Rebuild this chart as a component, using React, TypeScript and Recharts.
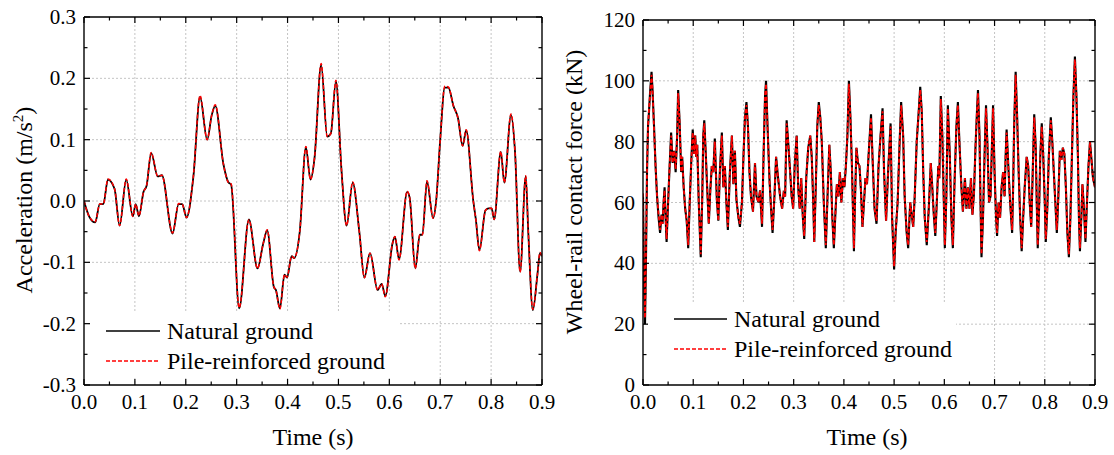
import { LineChart, Line, XAxis, YAxis, CartesianGrid, Legend } from "recharts";

const FONT = "'Liberation Serif', 'Times New Roman', 'DejaVu Serif', serif";

// axis ticks
const timeMajor = [0, 0.1, 0.2, 0.3, 0.4, 0.5, 0.6, 0.7, 0.8, 0.9];
const timeMinor = [0.05, 0.15, 0.25, 0.35, 0.45, 0.55, 0.65, 0.75, 0.85];
const accMajor = [-0.3, -0.2, -0.1, 0, 0.1, 0.2, 0.3];
const accMinor = [-0.25, -0.15, -0.05, 0.05, 0.15, 0.25];
const forceMajor = [0, 20, 40, 60, 80, 100, 120];
const forceMinor = [10, 30, 50, 70, 90, 110];

// left panel: acceleration (m/s2)
const accTime = [
  0, 0.01, 0.022, 0.031, 0.038, 0.047, 0.06, 0.07, 0.083, 0.096,
  0.1015, 0.108, 0.117, 0.123, 0.132, 0.145, 0.153, 0.174, 0.186, 0.193,
  0.2015, 0.215, 0.228, 0.242, 0.251, 0.258, 0.274, 0.284, 0.289, 0.305,
  0.324, 0.341, 0.352, 0.36, 0.373, 0.377, 0.385, 0.394, 0.399, 0.408,
  0.413, 0.424, 0.436, 0.445, 0.453, 0.466, 0.478, 0.485, 0.495, 0.506,
  0.516, 0.528, 0.541, 0.551, 0.562, 0.577, 0.585, 0.592, 0.606, 0.611,
  0.619, 0.635, 0.64, 0.651, 0.66, 0.665, 0.674, 0.686, 0.692, 0.7,
  0.709, 0.716, 0.726, 0.735, 0.744, 0.751, 0.765, 0.77, 0.777, 0.789,
  0.795, 0.801, 0.806, 0.819, 0.826, 0.839, 0.847, 0.857, 0.868, 0.873,
  0.882, 0.891, 0.896, 0.9,
];
const accNatural = [
  0, -0.025, -0.035, -0.005, -0.005, 0.035, 0.02, -0.04, 0.035, -0.025,
  -0.005, -0.025, 0.015, 0.025, 0.078, 0.04, 0.042, -0.053, -0.005, -0.005,
  -0.027, 0.04, 0.17, 0.1, 0.14, 0.155, 0.06, 0.03, 0.027, -0.175,
  -0.03, -0.11, -0.07, -0.048, -0.14, -0.145, -0.175, -0.12, -0.125, -0.09,
  -0.093, -0.05, 0.088, 0.035, 0.07, 0.222, 0.105, 0.11, 0.195, 0.05,
  -0.04, 0.03, -0.05, -0.125, -0.085, -0.145, -0.135, -0.155, -0.07, -0.058,
  -0.095, 0.015, 0.005, -0.11, -0.055, -0.055, 0.032, -0.028, 0, 0.1,
  0.185, 0.185, 0.155, 0.135, 0.09, 0.115, 0, -0.03, -0.08, -0.015,
  -0.012, -0.012, -0.03, 0.08, 0.03, 0.14, 0.08, -0.115, 0.04, -0.05,
  -0.178, -0.12, -0.085, -0.09,
];
const accPile = [
  0, -0.025, -0.034, -0.005, -0.005, 0.036, 0.02, -0.04, 0.036, -0.025,
  -0.005, -0.024, 0.015, 0.025, 0.079, 0.04, 0.042, -0.052, -0.004, -0.005,
  -0.027, 0.041, 0.172, 0.1, 0.14, 0.157, 0.06, 0.03, 0.028, -0.174,
  -0.031, -0.11, -0.07, -0.047, -0.14, -0.145, -0.176, -0.12, -0.124, -0.09,
  -0.093, -0.05, 0.089, 0.035, 0.07, 0.224, 0.105, 0.11, 0.197, 0.05,
  -0.04, 0.031, -0.05, -0.125, -0.085, -0.145, -0.135, -0.156, -0.07, -0.058,
  -0.096, 0.016, 0.005, -0.11, -0.055, -0.055, 0.033, -0.028, 0, 0.1,
  0.187, 0.186, 0.155, 0.135, 0.09, 0.116, 0, -0.03, -0.081, -0.015,
  -0.012, -0.012, -0.03, 0.081, 0.03, 0.142, 0.08, -0.116, 0.041, -0.05,
  -0.177, -0.12, -0.084, -0.09,
];

// right panel: wheel-rail contact force (kN)
const forceTime = [
  0, 0.002, 0.004, 0.006, 0.008, 0.01, 0.012, 0.014, 0.017, 0.019,
  0.022, 0.025, 0.028, 0.031, 0.034, 0.037, 0.039, 0.041, 0.043, 0.045,
  0.047, 0.05, 0.053, 0.056, 0.059, 0.062, 0.065, 0.068, 0.07, 0.073,
  0.076, 0.078, 0.081, 0.084, 0.087, 0.09, 0.093, 0.096, 0.099, 0.102,
  0.104, 0.106, 0.108, 0.111, 0.115, 0.118, 0.12, 0.122, 0.125, 0.128,
  0.131, 0.134, 0.137, 0.14, 0.143, 0.147, 0.15, 0.153, 0.157, 0.16,
  0.163, 0.166, 0.169, 0.173, 0.177, 0.18, 0.183, 0.186, 0.19, 0.193,
  0.197, 0.2, 0.203, 0.206, 0.209, 0.212, 0.215, 0.219, 0.221, 0.223,
  0.226, 0.23, 0.233, 0.237, 0.24, 0.243, 0.245, 0.248, 0.252, 0.255,
  0.258, 0.262, 0.265, 0.269, 0.273, 0.277, 0.28, 0.283, 0.286, 0.289,
  0.293, 0.296, 0.299, 0.302, 0.306, 0.309, 0.312, 0.315, 0.318, 0.321,
  0.325, 0.329, 0.333, 0.336, 0.339, 0.341, 0.344, 0.347, 0.35, 0.353,
  0.356, 0.36, 0.364, 0.367, 0.371, 0.374, 0.377, 0.38, 0.383, 0.386,
  0.389, 0.392, 0.395, 0.398, 0.401, 0.404, 0.407, 0.41, 0.413, 0.416,
  0.418, 0.42, 0.422, 0.425, 0.428, 0.431, 0.434, 0.437, 0.44, 0.443,
  0.446, 0.449, 0.454, 0.457, 0.461, 0.465, 0.469, 0.473, 0.477, 0.48,
  0.484, 0.488, 0.493, 0.496, 0.5, 0.503, 0.507, 0.511, 0.514, 0.518,
  0.521, 0.525, 0.528, 0.532, 0.535, 0.538, 0.541, 0.545, 0.549, 0.552,
  0.555, 0.558, 0.561, 0.565, 0.569, 0.573, 0.576, 0.579, 0.582, 0.585,
  0.588, 0.59, 0.593, 0.596, 0.599, 0.601, 0.604, 0.607, 0.611, 0.614,
  0.617, 0.62, 0.624, 0.627, 0.63, 0.634, 0.637, 0.641, 0.644, 0.647,
  0.65, 0.653, 0.656, 0.659, 0.662, 0.665, 0.667, 0.67, 0.672, 0.674,
  0.677, 0.68, 0.683, 0.686, 0.689, 0.692, 0.695, 0.697, 0.7, 0.703,
  0.705, 0.708, 0.711, 0.714, 0.717, 0.72, 0.722, 0.724, 0.728, 0.731,
  0.735, 0.737, 0.739, 0.742, 0.745, 0.748, 0.751, 0.754, 0.757, 0.76,
  0.764, 0.767, 0.77, 0.773, 0.776, 0.779, 0.782, 0.784, 0.786, 0.789,
  0.791, 0.794, 0.797, 0.8, 0.802, 0.805, 0.808, 0.812, 0.815, 0.818,
  0.821, 0.824, 0.827, 0.83, 0.833, 0.836, 0.839, 0.842, 0.845, 0.848,
  0.851, 0.854, 0.857, 0.86, 0.863, 0.866, 0.868, 0.87, 0.873, 0.875,
  0.878, 0.881, 0.884, 0.887, 0.89, 0.893, 0.896, 0.9,
];
const forceNatural = [
  62, 35, 20, 42, 70, 85, 90, 96, 103, 97,
  85, 72, 62, 55, 50, 56, 53, 60, 65, 55,
  47, 60, 72, 83, 73, 77, 70, 82, 97, 86,
  70, 75, 65, 58, 54, 45, 60, 73, 84, 76,
  82, 75, 79, 60, 42, 62, 82, 87, 76, 64,
  53, 64, 72, 70, 81, 61, 54, 70, 83, 65,
  72, 60, 51, 70, 82, 66, 77, 61, 55, 52,
  60, 75, 88, 93, 85, 70, 62, 57, 65, 73,
  62, 60, 64, 52, 75, 95, 100, 85, 67, 58,
  50, 63, 75, 68, 62, 58, 63, 62, 87, 80,
  70, 62, 58, 72, 82, 65, 58, 68, 56, 48,
  68, 78, 82, 75, 60, 47, 65, 85, 93, 88,
  80, 60, 45, 60, 79, 70, 55, 45, 56, 66,
  62, 70, 60, 68, 65, 72, 82, 100, 88, 72,
  58, 44, 60, 78, 73, 72, 64, 52, 60, 68,
  66, 75, 89, 75, 58, 53, 72, 82, 91, 70,
  54, 70, 86, 55, 38, 50, 60, 80, 93, 82,
  62, 50, 45, 60, 56, 52, 62, 80, 90, 98,
  90, 70, 55, 46, 58, 73, 65, 56, 49, 60,
  72, 68, 95, 82, 60, 45, 62, 92, 75, 55,
  45, 65, 85, 93, 80, 65, 57, 68, 58, 65,
  58, 68, 56, 63, 78, 90, 97, 82, 60, 42,
  55, 75, 92, 78, 60, 62, 80, 92, 70, 55,
  49, 60, 55, 65, 70, 62, 75, 84, 70, 60,
  50, 65, 85, 103, 88, 70, 55, 44, 55, 65,
  75, 72, 60, 52, 70, 89, 78, 60, 45, 60,
  75, 86, 75, 60, 47, 58, 75, 88, 80, 70,
  60, 50, 62, 77, 74, 78, 76, 65, 50, 42,
  55, 75, 95, 108, 95, 75, 55, 44, 56, 66,
  58, 47, 60, 72, 80, 74, 68, 65,
];
const forcePile = [
  63, 37, 22, 44, 71, 85, 91, 95, 102, 97,
  84, 72, 62, 56, 51, 56, 53, 60, 64, 55,
  48, 60, 72, 82, 73, 77, 71, 82, 96, 86,
  70, 75, 65, 58, 54, 46, 60, 73, 83, 76,
  82, 75, 79, 60, 43, 62, 82, 86, 76, 64,
  53, 64, 72, 70, 80, 61, 54, 70, 82, 65,
  72, 60, 52, 70, 82, 66, 77, 61, 55, 53,
  60, 75, 88, 92, 85, 70, 62, 57, 65, 73,
  62, 60, 64, 53, 75, 95, 99, 85, 67, 58,
  51, 63, 75, 68, 62, 58, 63, 62, 86, 80,
  70, 62, 58, 72, 82, 65, 58, 68, 56, 49,
  68, 78, 82, 75, 60, 47, 65, 85, 92, 88,
  80, 60, 46, 60, 79, 70, 55, 46, 56, 66,
  62, 70, 60, 68, 65, 72, 82, 99, 88, 72,
  58, 45, 60, 78, 73, 72, 64, 52, 60, 68,
  66, 75, 88, 75, 58, 54, 72, 82, 90, 70,
  54, 70, 85, 55, 39, 50, 60, 80, 92, 82,
  62, 50, 46, 60, 56, 52, 62, 80, 90, 97,
  90, 70, 55, 47, 58, 73, 65, 56, 50, 60,
  72, 68, 94, 82, 60, 46, 62, 91, 75, 55,
  46, 65, 85, 92, 80, 65, 57, 68, 58, 65,
  58, 68, 56, 63, 78, 90, 96, 82, 60, 43,
  55, 75, 91, 78, 60, 62, 80, 91, 70, 55,
  50, 60, 55, 65, 70, 62, 75, 83, 70, 60,
  51, 65, 85, 102, 88, 70, 55, 45, 55, 65,
  75, 72, 60, 52, 70, 88, 78, 60, 46, 60,
  75, 85, 75, 60, 48, 58, 75, 87, 80, 70,
  60, 51, 62, 77, 74, 78, 76, 65, 50, 43,
  55, 75, 95, 107, 95, 75, 55, 45, 56, 66,
  58, 48, 60, 72, 80, 74, 68, 65,
];

const accRows = accTime.map((t, i) => ({ t, natural: accNatural[i], pile: accPile[i] }));
const forceRows = forceTime.map((t, i) => ({ t, natural: forceNatural[i], pile: forcePile[i] }));

const isMajor = (v: number, majors: number[]) => majors.some((m) => Math.abs(m - v) < 1e-9);
const sortAll = (a: number[], b: number[]) => [...a, ...b].sort((p, q) => p - q);

type Side = "bottom" | "top" | "left" | "right";

function makeTick(side: Side, majors: number[], fmt?: (v: number) => string) {
  return (props: any) => {
    const { x, y, payload } = props;
    const v = payload.value as number;
    const major = isMajor(v, majors);
    const len = major ? 6 : 3.5;
    let x2 = x;
    let y2 = y;
    if (side === "bottom") y2 = y - len;
    if (side === "top") y2 = y + len;
    if (side === "left") x2 = x + len;
    if (side === "right") x2 = x - len;
    return (
      <g>
        <line x1={x} y1={y} x2={x2} y2={y2} stroke="#000" strokeWidth={1.2} />
        {fmt && major && side === "bottom" && (
          <text x={x} y={y + 24} textAnchor="middle" fontFamily={FONT} fontSize={21} fill="#000">
            {fmt(v)}
          </text>
        )}
        {fmt && major && side === "left" && (
          <text x={x - 8} y={y + 7} textAnchor="end" fontFamily={FONT} fontSize={21} fill="#000">
            {fmt(v)}
          </text>
        )}
      </g>
    );
  };
}

const axisLine = { stroke: "#000", strokeWidth: 1.4 };

function LegendContent({ lineX, lineW, textX, y1, y2 }: { lineX: number; lineW: number; textX: number; y1: number; y2: number }) {
  return (
    <svg width="100%" height="100%" style={{ display: "block" }}>
      <line x1={lineX} y1={y1} x2={lineX + lineW} y2={y1} stroke="#000" strokeWidth={1.5} />
      <text x={textX} y={y1 + 8} fontFamily={FONT} fontSize={24} fill="#000">
        Natural ground
      </text>
      <line x1={lineX} y1={y2} x2={lineX + lineW} y2={y2} stroke="#ff0000" strokeWidth={1.5} strokeDasharray="4 2" />
      <text x={textX} y={y2 + 8} fontFamily={FONT} fontSize={24} fill="#000">
        Pile-reinforced ground
      </text>
    </svg>
  );
}

function TimeTitle() {
  return (
    <text x={313} y={445} textAnchor="middle" fontFamily={FONT} fontSize={24} fill="#000">
      Time (s)
    </text>
  );
}

function AccTitle() {
  return (
    <text transform="translate(32,200) rotate(-90)" textAnchor="middle" fontFamily={FONT} fontSize={24} fill="#000">
      <tspan>Acceleration (m/s</tspan>
      <tspan dy={-9} fontSize={15}>2</tspan>
      <tspan dy={9}>)</tspan>
    </text>
  );
}

function ForceTitle() {
  return (
    <text transform="translate(28,192) rotate(-90)" textAnchor="middle" fontFamily={FONT} fontSize={24} fill="#000">
      Wheel-rail contact force (kN)
    </text>
  );
}

function Panel({
  rows,
  yDomain,
  yMajor,
  yMinor,
  yFmt,
  curve,
  lineWidth,
  top,
  left,
  right,
  yTitle,
  legendBox,
  legendInner,
}: {
  rows: { t: number; natural: number; pile: number }[];
  yDomain: [number, number];
  yMajor: number[];
  yMinor: number[];
  yFmt: (v: number) => string;
  curve: "monotone" | "linear";
  lineWidth: number;
  top: number;
  left: number;
  right: number;
  yTitle: JSX.Element;
  legendBox: { left: number; top: number; width: number; height: number };
  legendInner: { lineX: number; lineW: number; textX: number; y1: number; y2: number };
}) {
  const xTicks = sortAll(timeMajor, timeMinor);
  const yTicks = sortAll(yMajor, yMinor);
  const innerX = timeMajor.slice(1, -1);
  const innerY = yMajor.slice(1, -1);
  return (
    <LineChart width={560} height={455} data={rows} margin={{ top, right, bottom: 40, left }}>
      <CartesianGrid
        stroke="#c4c4c4"
        strokeDasharray="2 2"
        strokeWidth={1}
        verticalValues={innerX}
        horizontalValues={innerY}
      />
      <XAxis
        dataKey="t"
        type="number"
        domain={[0, 0.9]}
        allowDataOverflow
        ticks={xTicks}
        interval={0}
        height={30}
        axisLine={axisLine}
        tickLine={false}
        tickSize={0}
        tickMargin={0}
        tick={makeTick("bottom", timeMajor, (v) => v.toFixed(1))}
        label={<TimeTitle />}
      />
      <XAxis
        xAxisId="top"
        orientation="top"
        dataKey="t"
        type="number"
        domain={[0, 0.9]}
        allowDataOverflow
        ticks={xTicks}
        interval={0}
        height={1}
        axisLine={axisLine}
        tickLine={false}
        tickSize={0}
        tickMargin={0}
        tick={makeTick("top", timeMajor)}
      />
      <YAxis
        type="number"
        domain={yDomain}
        allowDataOverflow
        ticks={yTicks}
        interval={0}
        width={60}
        axisLine={axisLine}
        tickLine={false}
        tickSize={0}
        tickMargin={0}
        tick={makeTick("left", yMajor, yFmt)}
        label={yTitle}
      />
      <YAxis
        yAxisId="right"
        orientation="right"
        type="number"
        domain={yDomain}
        allowDataOverflow
        ticks={yTicks}
        interval={0}
        width={1}
        axisLine={axisLine}
        tickLine={false}
        tickSize={0}
        tickMargin={0}
        tick={makeTick("right", yMajor)}
      />
      <Line
        type={curve}
        dataKey="natural"
        stroke="#000"
        strokeWidth={lineWidth + 0.3}
        dot={false}
        isAnimationActive={false}
      />
      <Line
        type={curve}
        dataKey="pile"
        stroke="#ff0000"
        strokeWidth={lineWidth}
        strokeDasharray="4 2"
        dot={false}
        isAnimationActive={false}
      />
      <Legend
        layout="horizontal"
        verticalAlign="middle"
        align="center"
        wrapperStyle={{ ...legendBox, background: "#fff", lineHeight: 0, padding: 0, margin: 0 }}
        content={() => <LegendContent {...legendInner} />}
      />
    </LineChart>
  );
}

export default function App() {
  return (
    <div style={{ position: "absolute", left: 0, top: 0, width: 1114, height: 455, background: "#fff" }}>
      <div style={{ position: "absolute", left: 0, top: 0 }}>
        <Panel
          rows={accRows}
          yDomain={[-0.3, 0.3]}
          yMajor={accMajor}
          yMinor={accMinor}
          yFmt={(v) => v.toFixed(1)}
          curve="monotone"
          lineWidth={1.5}
          top={16}
          left={24}
          right={17}
          yTitle={<AccTitle />}
          legendBox={{ left: 92, top: 312, width: 306, height: 66 }}
          legendInner={{ lineX: 14, lineW: 54, textX: 75, y1: 19, y2: 49 }}
        />
      </div>
      <div style={{ position: "absolute", left: 554, top: 0 }}>
        <Panel
          rows={forceRows}
          yDomain={[0, 120]}
          yMajor={forceMajor}
          yMinor={forceMinor}
          yFmt={(v) => String(v)}
          curve="linear"
          lineWidth={1.8}
          top={19}
          left={29}
          right={18}
          yTitle={<ForceTitle />}
          legendBox={{ left: 94, top: 302, width: 308, height: 76 }}
          legendInner={{ lineX: 26, lineW: 53, textX: 86, y1: 17, y2: 47 }}
        />
      </div>
    </div>
  );
}
